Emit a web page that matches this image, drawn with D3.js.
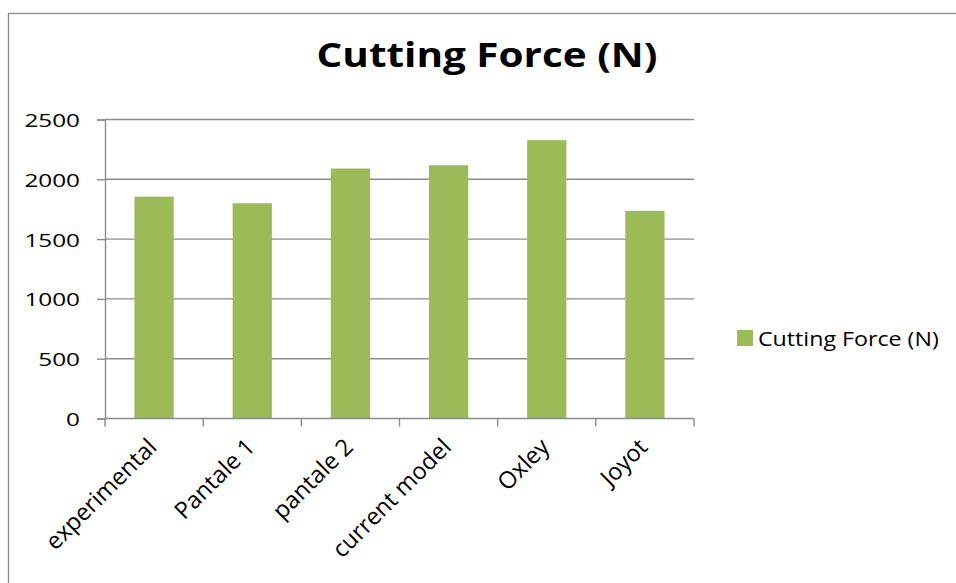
<!DOCTYPE html>
<html>
<head>
<meta charset="utf-8">
<script src="https://cdn.jsdelivr.net/npm/d3@7"></script>
<style>
  html, body { margin: 0; padding: 0; background: #fff; }
  svg { display: block; }
  text { font-family: "Open Sans", sans-serif; fill: #000; }
</style>
</head>
<body>
<svg id="chart" width="956" height="583"></svg>
<script>
// Chart data
const categories = ["experimental", "Pantale 1", "pantale 2", "current model", "Oxley", "Joyot"];
const forces = [1855, 1800, 2090, 2118, 2327, 1736];
const yTicks = [0, 500, 1000, 1500, 2000, 2500];
const seriesName = "Cutting Force (N)";
const chartTitle = "Cutting Force (N)";

const svg = d3.select("#chart");
const W = 956, H = 583;
const plot = { left: 105, right: 694, top: 119.5, bottom: 418.5 };
const axisColor = "#8c8c8c";
const barColor = "#9bbb59";
const widen = 1.19; // horizontal text stretch

// Outer chart frame
svg.append("rect")
  .attr("x", 8.5).attr("y", 13.5)
  .attr("width", W + 20).attr("height", H + 20)
  .attr("fill", "#fff").attr("stroke", axisColor).attr("stroke-width", 1.3);

const x = d3.scaleBand().domain(categories).range([plot.left, plot.right]);
const y = d3.scaleLinear().domain([0, 2500]).range([plot.bottom, plot.top]);

// Horizontal gridlines
svg.append("g").selectAll("line").data(yTicks.filter(d => d > 0)).join("line")
  .attr("x1", plot.left).attr("x2", plot.right)
  .attr("y1", d => y(d)).attr("y2", d => y(d))
  .attr("stroke", axisColor).attr("stroke-width", 1.4);

// Bars
const barW = x.step() * 0.4;
svg.append("g").selectAll("rect").data(categories).join("rect")
  .attr("x", d => x(d) + (x.step() - barW) / 2)
  .attr("width", barW)
  .attr("y", (d, i) => y(forces[i]))
  .attr("height", (d, i) => y(0) - y(forces[i]))
  .attr("fill", barColor);

// Y axis
const yAxis = d3.axisLeft(y).tickValues(yTicks).tickFormat(d3.format("d")).tickSize(8).tickPadding(0);
const gy = svg.append("g").attr("transform", `translate(${plot.left},0)`).call(yAxis);
gy.select(".domain").attr("stroke", axisColor).attr("stroke-width", 1.4);
gy.selectAll(".tick line").attr("stroke", axisColor).attr("stroke-width", 1.4);
gy.selectAll(".tick text")
  .attr("x", null).attr("dy", null)
  .attr("transform", "translate(-25,7) scale(1.28,1)")
  .attr("font-size", 19).attr("font-family", "'Open Sans', sans-serif").attr("fill", "#000");

// X axis: baseline with ticks at band boundaries
const gx = svg.append("g");
gx.append("line")
  .attr("x1", plot.left).attr("x2", plot.right)
  .attr("y1", y(0)).attr("y2", y(0))
  .attr("stroke", axisColor).attr("stroke-width", 1.4);
const bounds = categories.map(d => x(d)).concat([plot.right]);
gx.selectAll("line.tk").data(bounds).join("line").attr("class", "tk")
  .attr("x1", d => d).attr("x2", d => d)
  .attr("y1", y(0)).attr("y2", y(0) + 8)
  .attr("stroke", axisColor).attr("stroke-width", 1.4);
gx.selectAll("text").data(categories).join("text")
  .attr("transform", d => `translate(${x(d) + x.bandwidth() / 2 + 4},${y(0) + 30}) rotate(-45)`)
  .attr("text-anchor", "end")
  .attr("font-size", 23.5)
  .text(d => d);

// Title
svg.append("text")
  .attr("transform", `translate(487,67) scale(${widen},1)`)
  .attr("text-anchor", "middle")
  .attr("font-size", 34).attr("font-weight", "bold")
  .text(chartTitle);

// Legend
svg.append("rect").attr("x", 737).attr("y", 330).attr("width", 16).attr("height", 16).attr("fill", barColor);
svg.append("text")
  .attr("transform", `translate(758,345.5) scale(${widen},1)`)
  .attr("font-size", 19.5).text(seriesName);
</script>
</body>
</html>
